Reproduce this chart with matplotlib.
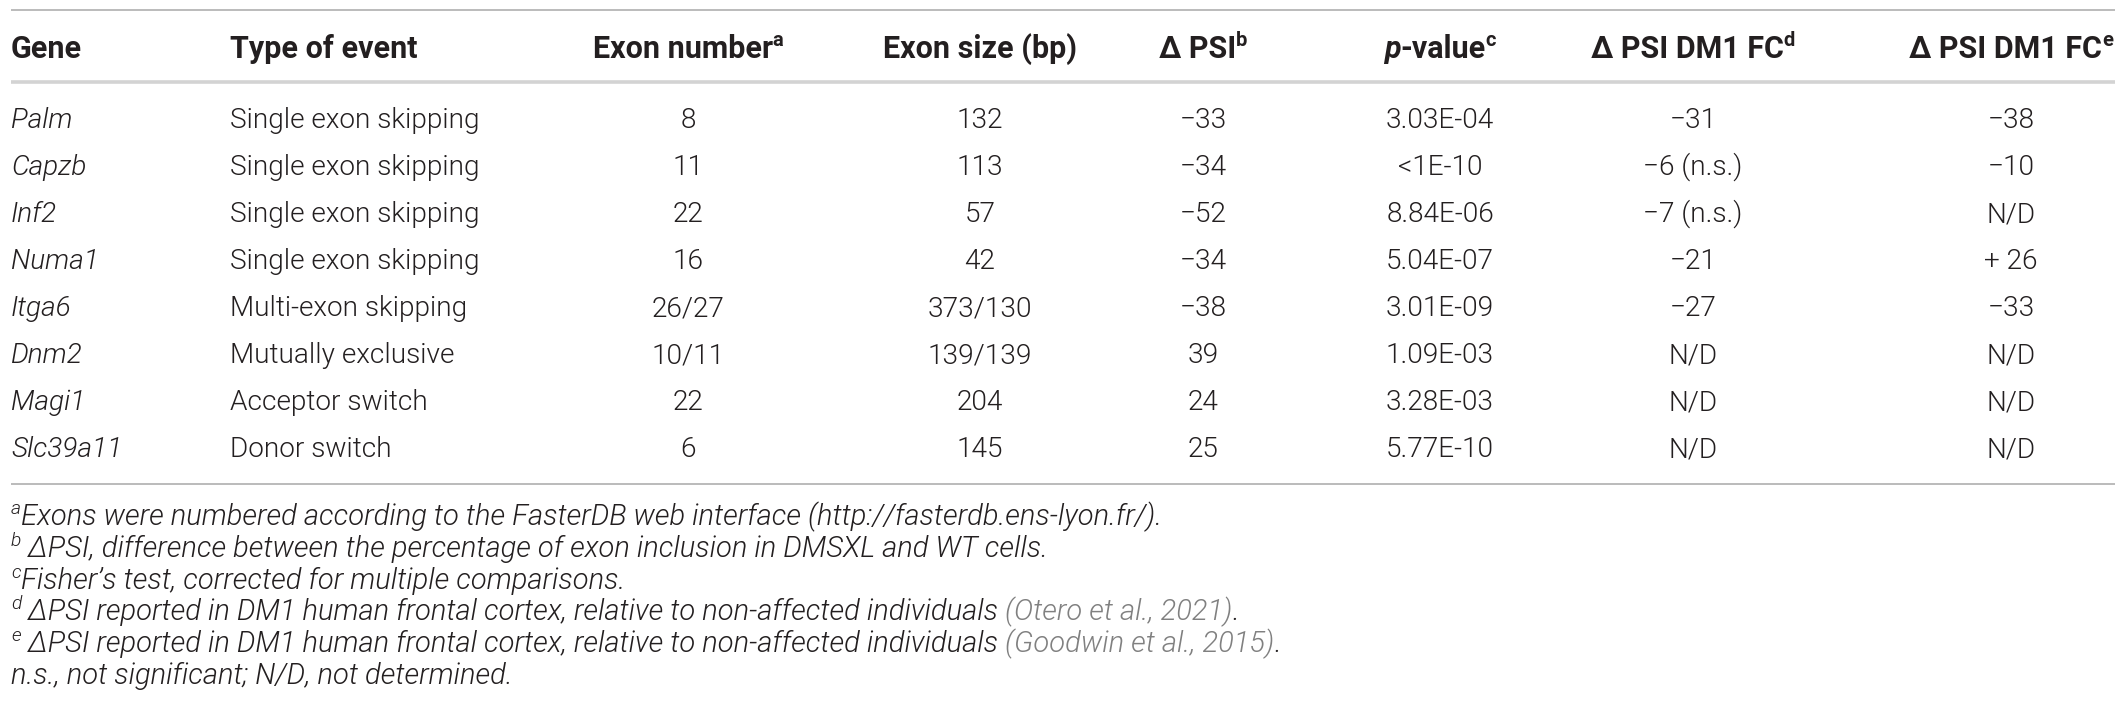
import matplotlib
matplotlib.use("Agg")
import matplotlib.pyplot as plt
from matplotlib import font_manager

# ---- table content ----
genes = ['Palm', 'Capzb', 'Inf2', 'Numa1', 'Itga6', 'Dnm2', 'Magi1', 'Slc39a11']
event_types = ['Single exon skipping', 'Single exon skipping', 'Single exon skipping',
               'Single exon skipping', 'Multi-exon skipping', 'Mutually exclusive',
               'Acceptor switch', 'Donor switch']
exon_numbers = ['8', '11', '22', '16', '26/27', '10/11', '22', '6']
exon_sizes = ['132', '113', '57', '42', '373/130', '139/139', '204', '145']
delta_psi = ['\u221233', '\u221234', '\u221252', '\u221234', '\u221238', '39', '24', '25']
p_values = ['3.03E-04', '<1E-10', '8.84E-06', '5.04E-07', '3.01E-09', '1.09E-03',
            '3.28E-03', '5.77E-10']
fc_otero = ['\u221231', '\u22126 (n.s.)', '\u22127 (n.s.)', '\u221221', '\u221227',
            'N/D', 'N/D', 'N/D']
fc_goodwin = ['\u221238', '\u221210', 'N/D', '+ 26', '\u221233', 'N/D', 'N/D', 'N/D']

footnote_a = 'Exons were numbered according to the FasterDB web interface (http://fasterdb.ens-lyon.fr/).'
footnote_b = ' \u0394PSI, difference between the percentage of exon inclusion in DMSXL and WT cells.'
footnote_c = 'Fisher\u2019s test, corrected for multiple comparisons.'
footnote_d = ' \u0394PSI reported in DM1 human frontal cortex, relative to non-affected individuals '
footnote_e = footnote_d
cite_d = '(Otero et al., 2021)'
cite_e = '(Goodwin et al., 2015)'
footnote_ns = 'n.s., not significant; N/D, not determined.'

W, H = 2128, 727
TEXT = '#231f20'
GREY = '#808080'

names = {f.name for f in font_manager.fontManager.ttflist}
FONT = ['DejaVu Sans']
for cand in ['Roboto', 'Lato', 'Liberation Sans']:
    if cand in names:
        FONT = [cand, 'DejaVu Sans']
        break

fig = plt.figure(figsize=(W / 100, H / 100), dpi=100)
ax = fig.add_axes([0, 0, 1, 1])
ax.set_xlim(0, W)
ax.set_ylim(H, 0)
ax.axis('off')
renderer = fig.canvas.get_renderer()


def fit_size(s, target, weight, style, lo, hi):
    # font size (pt) that gives the text the width it has in the reference
    t = ax.text(0, 0, s, fontsize=20, fontweight=weight, fontstyle=style, family=FONT)
    w = t.get_window_extent(renderer).width
    t.remove()
    return min(hi, max(lo, 20 * target / w))


BODY = fit_size('Mutually exclusive', 224, 300, 'normal', 15, 22)
HEAD = fit_size('Exon size (bp)', 199, 'bold', 'normal', 15, 22)
FOOT = fit_size('Exons were numbered according to the FasterDB web interface (http:/',
                880, 300, 'italic', 13, 21)


def runs(x, y, parts, ha='left', size=BODY, weight=300):
    # parts: (string, style, sup, color); y is the row centre in pixels
    px = size * 100 / 72
    base = y + px * 0.36
    arts = []
    for s, style, sup, col in parts:
        fs = size * 0.66 if sup else size
        t = ax.text(0, base - (px * 0.38 if sup else 0), s,
                    fontsize=fs, fontstyle=style, fontweight=weight,
                    color=col, family=FONT, va='baseline', ha='left')
        arts.append(t)
    widths = [t.get_window_extent(renderer).width for t in arts]
    total = sum(widths)
    x0 = x - total / 2 if ha == 'center' else x
    for t, w in zip(arts, widths):
        t.set_x(x0)
        x0 += w


# ---- rules ----
ax.plot([11, 2115], [10, 10], color='#b5b5b5', lw=1.3, solid_capstyle='butt')
ax.plot([11, 2115], [82, 82], color='#d3d3d3', lw=2.6, solid_capstyle='butt')
ax.plot([11, 2115], [484, 484], color='#b5b5b5', lw=1.3, solid_capstyle='butt')

# ---- header ----
hy = 47
col_x = [688, 980, 1203, 1440, 1693, 2011]
runs(11, hy, [('Gene', 'normal', False, TEXT)], size=HEAD, weight='bold')
runs(230, hy, [('Type of event', 'normal', False, TEXT)], size=HEAD, weight='bold')
headers = [
    [('Exon number', 'normal', False, TEXT), ('a', 'normal', True, TEXT)],
    [('Exon size (bp)', 'normal', False, TEXT)],
    [('\u0394 PSI', 'normal', False, TEXT), ('b', 'normal', True, TEXT)],
    [('p', 'italic', False, TEXT), ('-value', 'normal', False, TEXT), ('c', 'normal', True, TEXT)],
    [('\u0394 PSI DM1 FC', 'normal', False, TEXT), ('d', 'normal', True, TEXT)],
    [('\u0394 PSI DM1 FC', 'normal', False, TEXT), ('e', 'normal', True, TEXT)],
]
for cx, h in zip(col_x, headers):
    runs(cx, hy, h, ha='center', size=HEAD, weight='bold')

# ---- body ----
columns = [exon_numbers, exon_sizes, delta_psi, p_values, fc_otero, fc_goodwin]
for i, g in enumerate(genes):
    ry = 118 + 47 * i
    runs(11, ry, [(g, 'italic', False, TEXT)])
    runs(230, ry, [(event_types[i], 'normal', False, TEXT)])
    for cx, col in zip(col_x, columns):
        runs(cx, ry, [(col[i], 'normal', False, TEXT)], ha='center')

# ---- footnotes ----
notes = [
    [('a', 'italic', True, TEXT), (footnote_a, 'italic', False, TEXT)],
    [('b', 'italic', True, TEXT), (footnote_b, 'italic', False, TEXT)],
    [('c', 'italic', True, TEXT), (footnote_c, 'italic', False, TEXT)],
    [('d', 'italic', True, TEXT), (footnote_d, 'italic', False, TEXT),
     (cite_d, 'italic', False, GREY), ('.', 'italic', False, TEXT)],
    [('e', 'italic', True, TEXT), (footnote_e, 'italic', False, TEXT),
     (cite_e, 'italic', False, GREY), ('.', 'italic', False, TEXT)],
    [(footnote_ns, 'italic', False, TEXT)],
]
for k, n in enumerate(notes):
    runs(11, 515 + 31.6 * k, n, size=FOOT)

fig.savefig('out.png', dpi=100, facecolor='white')
